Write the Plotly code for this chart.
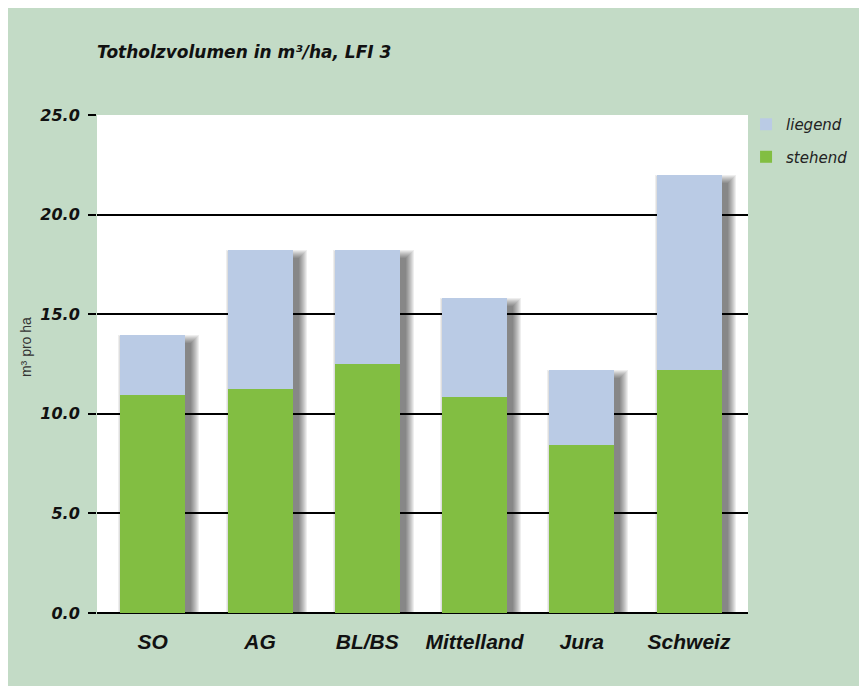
import plotly.graph_objects as go

categories = ["SO", "AG", "BL/BS", "Mittelland", "Jura", "Schweiz"]
stehend = [10.95, 11.25, 12.5, 10.85, 8.45, 12.2]
totals = [13.97, 18.2, 18.2, 15.8, 12.2, 22.0]
liegend = [t - s for t, s in zip(totals, stehend)]
y_ticks = [0, 5, 10, 15, 20, 25]
y_tick_labels = ["0.0", "5.0", "10.0", "15.0", "20.0", "25.0"]

BG = "#C3DBC6"
GREEN = "#82BE42"
BLUE = "#BACBE5"
BAR_W = 0.606
PX_X = 1 / 107.2   # category units per pixel
PX_Y = 1 / 19.92   # value units per pixel

fig = go.Figure()

# soft drop shadows (many faint translucent layers)
dx, dy = 6, 8
for s in range(8, -1, -1):
    w = BAR_W + 2 * s * PX_X
    off = -BAR_W / 2 + (dx - s) * PX_X
    base = -(dy + s) * PX_Y
    tops = [t - (dy - s) * PX_Y for t in totals]
    fig.add_trace(go.Bar(
        x=categories, y=[t - base for t in tops], base=[base] * len(categories),
        width=[w] * len(categories), offset=[off] * len(categories),
        marker=dict(color="rgba(0,0,0,0.065)", line=dict(width=0)),
        showlegend=False, hoverinfo="skip",
    ))

fig.add_trace(go.Bar(
    x=categories, y=stehend, name="stehend",
    width=[BAR_W] * len(categories), offset=[-BAR_W / 2] * len(categories),
    marker=dict(color=GREEN, line=dict(width=0)), legendgroup="b", legendrank=2,
))
fig.add_trace(go.Bar(
    x=categories, y=liegend, base=stehend, name="liegend",
    width=[BAR_W] * len(categories), offset=[-BAR_W / 2] * len(categories),
    marker=dict(color=BLUE, line=dict(width=0)), legendgroup="a", legendrank=1,
))

fig.update_layout(
    width=859, height=678,
    margin=dict(l=89, r=119, t=107, b=73, autoexpand=False),
    paper_bgcolor=BG, plot_bgcolor="white",
    barmode="overlay",
    title=dict(
        text="Totholzvolumen in m³/ha, LFI 3",
        x=0, xref="paper", xanchor="left",
        y=1 - 44 / 678, yref="container", yanchor="middle",
        font=dict(family="DejaVu Sans", size=17, color="#111",
                  weight="bold", style="italic"),
    ),
    xaxis=dict(
        range=[-0.52, 5.55], showgrid=False, zeroline=False, showline=False,
        ticks="", ticklabelstandoff=14,
        tickfont=dict(family="Liberation Sans", size=21, color="#111",
                      weight="bold", style="italic"),
    ),
    yaxis=dict(
        range=[0, 25], tickvals=y_ticks, ticktext=y_tick_labels,
        showgrid=True, gridcolor="black", gridwidth=2,
        zeroline=True, zerolinecolor="black", zerolinewidth=2,
        ticks="outside", ticklen=8, tickwidth=2, tickcolor="black",
        ticklabelstandoff=5, showline=False,
        tickfont=dict(family="DejaVu Sans", size=16, color="#111",
                      weight="bold", style="italic"),
    ),
    legend=dict(
        x=0.997, y=1.014, xanchor="left", yanchor="top",
        traceorder="grouped", tracegroupgap=10,
        bgcolor="rgba(0,0,0,0)",
        font=dict(family="DejaVu Sans", size=15, color="#222", style="italic"),
        itemwidth=30,
    ),
    annotations=[dict(
        text="m³ pro ha", textangle=-90, x=(26 - 97) / 651, y=0.534,
        xref="paper", yref="paper", xanchor="center", yanchor="middle",
        showarrow=False, font=dict(family="Liberation Sans", size=14, color="#333"),
    )],
    bargap=0,
)

fig.write_html("out.html")
